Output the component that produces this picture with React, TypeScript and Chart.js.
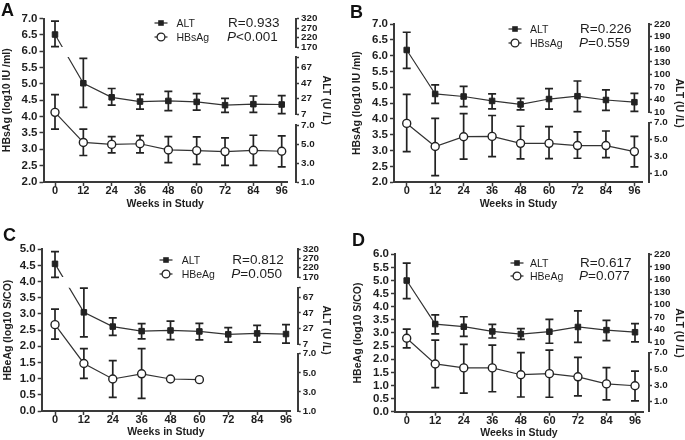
import React, { useEffect, useRef } from 'react';
import { Chart, registerables } from 'chart.js';

Chart.register(...registerables);

// ---------------- data ----------------
const weeks = [0, 12, 24, 36, 48, 60, 72, 84, 96];

// Panel A (values in left-axis units, log10 IU/ml scale position)
const altA = [6.51, 5.02, 4.59, 4.46, 4.48, 4.45, 4.35, 4.38, 4.37];
const altALo = [6.14, 4.28, 4.35, 4.23, 4.18, 4.2, 4.13, 4.13, 4.09];
const altAHi = [6.92, 5.78, 4.86, 4.68, 4.77, 4.7, 4.56, 4.63, 4.64];
const hbsA = [4.13, 3.21, 3.15, 3.17, 2.98, 2.96, 2.93, 2.97, 2.94];
const hbsALo = [3.62, 2.81, 2.89, 2.89, 2.59, 2.54, 2.51, 2.51, 2.46];
const hbsAHi = [4.67, 3.62, 3.39, 3.42, 3.39, 3.38, 3.35, 3.43, 3.41];

// Panel B
const altB = [6.18, 4.79, 4.71, 4.57, 4.46, 4.63, 4.72, 4.6, 4.53];
const altBLo = [5.6, 4.49, 4.39, 4.32, 4.29, 4.31, 4.23, 4.27, 4.24];
const altBHi = [6.74, 5.08, 5.03, 4.79, 4.65, 4.96, 5.2, 4.92, 4.81];
const hbsB = [3.86, 3.13, 3.44, 3.45, 3.23, 3.23, 3.16, 3.16, 2.97];
const hbsBLo = [2.97, 2.21, 2.73, 2.81, 2.74, 2.75, 2.76, 2.78, 2.49];
const hbsBHi = [4.78, 4.02, 4.17, 4.11, 3.77, 3.76, 3.59, 3.62, 3.45];

// Panel C
const altC = [4.55, 3.05, 2.61, 2.47, 2.49, 2.46, 2.37, 2.4, 2.38];
const altCLo = [4.13, 2.29, 2.34, 2.23, 2.21, 2.2, 2.13, 2.13, 2.1];
const altCHi = [4.93, 3.8, 2.88, 2.7, 2.78, 2.71, 2.58, 2.65, 2.67];
const hbeC = [2.67, 1.47, 0.99, 1.15, 0.99, 0.97, null, null, null];
const hbeCLo = [2.22, 1.01, 0.42, 0.39, null, null, null, null, null];
const hbeCHi = [3.15, 1.93, 1.56, 1.93, null, null, null, null, null];

// Panel D
const altD = [5.0, 3.34, 3.24, 3.06, 2.96, 3.05, 3.23, 3.11, 3.03];
const altDLo = [4.31, 2.97, 2.87, 2.81, 2.76, 2.61, 2.64, 2.71, 2.66];
const altDHi = [5.66, 3.69, 3.62, 3.33, 3.17, 3.52, 3.84, 3.48, 3.36];
const hbeD = [2.8, 1.82, 1.67, 1.67, 1.41, 1.45, 1.33, 1.06, 0.99];
const hbeDLo = [2.43, 0.92, 0.71, 0.76, 0.56, 0.55, 0.6, 0.45, 0.41];
const hbeDHi = [3.15, 2.73, 2.57, 2.54, 2.25, 2.35, 2.07, 1.68, 1.55];

// right-axis tick labels
const altHighTicks = [170, 220, 270, 320];
const altMidTicks = [7, 27, 47, 67];
const altWideTicks = [10, 40, 70, 100, 130, 160, 190, 220];
const lowTicks = [1, 3, 5, 7];

// ---------------- styling ----------------
const FONT = "'Liberation Sans', Arial, Helvetica, sans-serif";
const AX = '#3a3a3a';
const TXT = '#1e1e1e';
const LINE = '#333333';

const pts = (vals: (number | null)[]) =>
  weeks.map((w, i) => ({ x: w, y: vals[i] })).filter((d) => d.y != null);

const errorBars = {
  id: 'errorBars',
  beforeDatasetsDraw(chart: any) {
    const ctx = chart.ctx;
    chart.data.datasets.forEach((ds: any, di: number) => {
      if (!ds.errLo) return;
      const meta = chart.getDatasetMeta(di);
      const xs = chart.scales[meta.xAxisID];
      const ys = chart.scales[meta.yAxisID];
      ctx.save();
      ctx.strokeStyle = '#222';
      ctx.lineWidth = 1.7;
      weeks.forEach((w, i) => {
        const lo = ds.errLo[i];
        const hi = ds.errHi[i];
        if (lo == null || hi == null) return;
        const x = xs.getPixelForValue(w);
        const y1 = ys.getPixelForValue(lo);
        const y2 = ys.getPixelForValue(hi);
        const cap = 4;
        ctx.beginPath();
        ctx.moveTo(x, y1);
        ctx.lineTo(x, y2);
        ctx.moveTo(x - cap, y1);
        ctx.lineTo(x + cap, y1);
        ctx.moveTo(x - cap, y2);
        ctx.lineTo(x + cap, y2);
        ctx.stroke();
      });
      ctx.restore();
    });
  },
};

// break the ALT line where the right axis is broken
const breakClip = {
  id: 'breakClip',
  beforeDatasetDraw(chart: any, args: any) {
    const ds = chart.data.datasets[args.index];
    const g = chart.scales.s1;
    if (!ds.breakClip || !g || !g.options.isGap) return;
    const { ctx, chartArea: a } = chart;
    ctx.save();
    ctx.beginPath();
    ctx.rect(a.left - 10, 0, a.width + 20, g.top);
    ctx.rect(a.left - 10, g.bottom, a.width + 20, chart.height - g.bottom);
    ctx.clip();
    ds._clipped = true;
  },
  afterDatasetDraw(chart: any, args: any) {
    const ds = chart.data.datasets[args.index];
    if (ds._clipped) {
      chart.ctx.restore();
      ds._clipped = false;
    }
  },
};

const seg = (min: number, max: number, ticks: number[], labels: string[], w: number) => ({
  min, max, ticks, labels, w,
});
const gap = (w: number) => ({ gap: true, w });
const fmt1 = (a: number[]) => a.map((v) => v.toFixed(1));
const fmt0 = (a: number[]) => a.map((v) => String(v));

const panels: any[] = [
  {
    key: 'A', left: 0, top: 0, w: 343,
    padT: 18.5, padB: 10, padR: 11, yW: 43.5, yTitlePad: 0.4, xH: 28,
    xMin: -4.87, xMax: 98.24, spW: 9, stW: 22, rtW: 14,
    yMin: 2, yMax: 7, yTitle: 'HBsAg (log10 IU /ml)', name: 'HBsAg',
    alt: [altA, altALo, altAHi], ag: [hbsA, hbsALo, hbsAHi],
    segs: [
      seg(170, 320, altHighTicks, fmt0(altHighTicks), 28.5),
      gap(10),
      seg(7, 81, [...altMidTicks, 81], fmt0(altMidTicks), 57),
      gap(11),
      seg(1, 7, lowTicks, fmt1(lowTicks), 57),
    ],
    letter: { x: 1, y: 0 },
    leg: { mx: 161, y1: 23.3, y2: 37.3, tx: 176.5, sx: 228 },
    r: 'R=0.933', pRest: '<0.001',
  },
  {
    key: 'B', left: 343, top: 0, w: 342,
    padT: 24, padB: 9.6, padR: 0, yW: 51, yTitlePad: 7.5, xH: 28.1,
    xMin: -5.36, xMax: 99.5, spW: 6.3, stW: 22, rtW: 14,
    yMin: 2, yMax: 7, yTitle: 'HBsAg (log10 IU /ml)', name: 'HBsAg',
    alt: [altB, altBLo, altBHi], ag: [hbsB, hbsBLo, hbsBHi],
    segs: [
      seg(10, 220, altWideTicks, fmt0(altWideTicks), 88.3),
      gap(10.4),
      seg(-0.07, 7, lowTicks, fmt1(lowTicks), 59.6),
    ],
    letter: { x: 7, y: 2 },
    leg: { mx: 172, y1: 29.3, y2: 43.3, tx: 187, sx: 237 },
    r: 'R=0.226', pRest: '=0.559',
  },
  {
    key: 'C', left: 0, top: 220, w: 343,
    padT: 29.3, padB: 1.5, padR: 11.3, yW: 41.7, yTitlePad: 2, xH: 27.5,
    xMin: -5.53, xMax: 97.66, spW: 7.7, stW: 22, rtW: 12,
    yMin: 0, yMax: 5, yTitle: 'HBeAg (log10 S/CO)', name: 'HBeAg',
    alt: [altC, altCLo, altCHi], ag: [hbeC, hbeCLo, hbeCHi],
    segs: [
      seg(170, 320, altHighTicks, fmt0(altHighTicks), 27.7),
      gap(10.7),
      seg(7, 79.5, [...altMidTicks, 79.5], fmt0(altMidTicks), 56.3),
      gap(9.7),
      seg(1, 7, lowTicks, fmt1(lowTicks), 57.3),
    ],
    letter: { x: 3, y: 5 },
    leg: { mx: 165.7, y1: 40, y2: 54.3, tx: 181.7, sx: 232.3 },
    r: 'R=0.812', pRest: '=0.050',
  },
  {
    key: 'D', left: 343, top: 220, w: 342,
    padT: 34.3, padB: 0.3, padR: 0, yW: 52, yTitlePad: 8.7, xH: 28,
    xMin: -4.92, xMax: 99.36, spW: 6, stW: 22, rtW: 14,
    yMin: 0, yMax: 6, yTitle: 'HBeAg (log10 S/CO)', name: 'HBeAg',
    alt: [altD, altDLo, altDHi], ag: [hbeD, hbeDLo, hbeDHi],
    segs: [
      seg(10, 220, altWideTicks, fmt0(altWideTicks), 88),
      gap(10.4),
      seg(-0.22, 7, lowTicks, fmt1(lowTicks), 59),
    ],
    letter: { x: 9, y: 10 },
    leg: { mx: 174.3, y1: 42.7, y2: 56, tx: 187, sx: 237 },
    r: 'R=0.617', pRest: '=0.077',
  },
];

const tickFont = { family: FONT, size: 11, weight: 'bold' as const };
const yTickFont = { family: FONT, size: 11.5, weight: 'bold' as const };
const rTickFont = { family: FONT, size: 9.8, weight: 'bold' as const };
const titleFont = { family: FONT, size: 10.5, weight: 'bold' as const };

function hidden(extra: any) {
  return {
    type: 'linear',
    position: 'right',
    min: 0,
    max: 1,
    ticks: { display: false },
    grid: { display: false },
    border: { display: false },
    ...extra,
  };
}

function buildConfig(p: any) {
  const scales: any = {
    x: {
      type: 'linear',
      position: 'bottom',
      min: p.xMin,
      max: p.xMax,
      afterBuildTicks: (a: any) => {
        a.ticks = weeks.map((v) => ({ value: v }));
      },
      ticks: {
        autoSkip: false,
        maxRotation: 0,
        padding: -1.5,
        color: TXT,
        font: tickFont,
        callback: (v: any) => String(v),
      },
      grid: { display: true, drawOnChartArea: false, drawTicks: true, tickLength: 4, tickWidth: 1.5, tickColor: AX },
      border: { display: true, color: AX, width: 2 },
      title: { display: true, text: 'Weeks in Study', color: TXT, font: titleFont, padding: { top: 0, bottom: 0 } },
      afterFit: (s: any) => {
        s.height = p.xH;
      },
    },
    y: {
      type: 'linear',
      position: 'left',
      min: p.yMin,
      max: p.yMax,
      ticks: {
        stepSize: 0.5,
        autoSkip: false,
        padding: 2,
        color: TXT,
        font: yTickFont,
        callback: (v: any) => Number(v).toFixed(1),
      },
      grid: { display: true, drawOnChartArea: false, drawTicks: true, tickLength: 4, tickWidth: 1.5, tickColor: AX },
      border: { display: true, color: AX, width: 2 },
      title: { display: true, text: p.yTitle, color: TXT, font: titleFont, padding: { top: p.yTitlePad, bottom: 0 } },
      afterFit: (s: any) => {
        s.width = p.yW;
      },
    },
    sp: hidden({
      afterFit: (s: any) => {
        s.width = p.spW;
      },
    }),
  };
  p.segs.forEach((sg: any, i: number) => {
    if (sg.gap) {
      scales['s' + i] = hidden({
        stack: 'alt',
        stackWeight: sg.w,
        isGap: true,
        afterFit: (s: any) => {
          s.width = p.stW;
        },
      });
    } else {
      scales['s' + i] = {
        type: 'linear',
        position: 'right',
        stack: 'alt',
        stackWeight: sg.w,
        min: sg.min,
        max: sg.max,
        afterBuildTicks: (a: any) => {
          a.ticks = sg.ticks.map((v: number) => ({ value: v }));
        },
        ticks: {
          autoSkip: false,
          padding: 2,
          color: TXT,
          font: rTickFont,
          callback: (_v: any, idx: number) => (idx < sg.labels.length ? sg.labels[idx] : ''),
        },
        grid: { display: true, drawOnChartArea: false, drawTicks: true, tickLength: 3, tickWidth: 1.5, tickColor: AX },
        border: { display: true, color: AX, width: 2 },
        afterFit: (s: any) => {
          s.width = p.stW;
        },
      };
    }
  });
  scales.rt = hidden({
    title: { display: true, text: 'ALT (U /L)', color: TXT, font: titleFont, padding: { top: 0, bottom: 0 } },
    afterFit: (s: any) => {
      s.width = p.rtW;
    },
  });

  const [alt, altLo, altHi] = p.alt;
  const [ag, agLo, agHi] = p.ag;

  return {
    type: 'line',
    data: {
      datasets: [
        {
          label: 'ALT',
          data: pts(alt),
          errLo: altLo,
          errHi: altHi,
          breakClip: true,
          xAxisID: 'x',
          yAxisID: 'y',
          borderColor: LINE,
          borderWidth: 1.2,
          tension: 0,
          fill: false,
          pointStyle: 'rect',
          pointRadius: 3.9,
          pointBackgroundColor: '#222',
          pointBorderColor: '#222',
          pointBorderWidth: 1,
        },
        {
          label: p.name,
          data: pts(ag),
          errLo: agLo,
          errHi: agHi,
          xAxisID: 'x',
          yAxisID: 'y',
          borderColor: LINE,
          borderWidth: 1.2,
          tension: 0,
          fill: false,
          pointStyle: 'circle',
          pointRadius: 4,
          pointBackgroundColor: '#fff',
          pointBorderColor: '#222',
          pointBorderWidth: 1.4,
        },
      ],
    },
    options: {
      animation: false,
      responsive: false,
      devicePixelRatio: 1,
      layout: { padding: { top: p.padT, bottom: p.padB, left: 0, right: p.padR } },
      plugins: { legend: { display: false }, tooltip: { enabled: false } },
      scales,
    },
    plugins: [errorBars, breakClip],
  } as any;
}

function LegendRow({ x, y, kind }: { x: number; y: number; kind: 'sq' | 'ci' }) {
  return (
    <svg
      width={16}
      height={12}
      style={{ position: 'absolute', left: x - 8, top: y - 6 }}
    >
      <line x1={1.5} y1={6} x2={14.5} y2={6} stroke={LINE} strokeWidth={1.3} />
      {kind === 'sq' ? (
        <rect x={5.2} y={3.2} width={5.6} height={5.6} fill="#222" />
      ) : (
        <circle cx={8} cy={6} r={3.9} fill="#fff" stroke="#222" strokeWidth={1.3} />
      )}
    </svg>
  );
}

function Panel({ p }: { p: any }) {
  const ref = useRef<HTMLCanvasElement>(null);
  useEffect(() => {
    const chart = new Chart(ref.current as HTMLCanvasElement, buildConfig(p));
    return () => chart.destroy();
  }, []);
  const lg = p.leg;
  const legText: React.CSSProperties = {
    position: 'absolute',
    fontFamily: FONT,
    fontSize: 10.5,
    lineHeight: '14px',
    color: TXT,
    whiteSpace: 'nowrap',
  };
  const statText: React.CSSProperties = {
    position: 'absolute',
    fontFamily: FONT,
    fontSize: 13.5,
    lineHeight: '16px',
    color: TXT,
    whiteSpace: 'nowrap',
  };
  return (
    <div style={{ position: 'absolute', left: p.left, top: p.top, width: p.w, height: 220 }}>
      <canvas ref={ref} width={p.w} height={220} style={{ width: p.w, height: 220, display: 'block' }} />
      <div
        style={{
          position: 'absolute',
          left: p.letter.x,
          top: p.letter.y,
          fontFamily: FONT,
          fontSize: 18,
          lineHeight: '20px',
          fontWeight: 'bold',
          color: '#111',
        }}
      >
        {p.key}
      </div>
      <LegendRow x={lg.mx} y={lg.y1} kind="sq" />
      <LegendRow x={lg.mx} y={lg.y2} kind="ci" />
      <div style={{ ...legText, left: lg.tx, top: lg.y1 - 7 }}>ALT</div>
      <div style={{ ...legText, left: lg.tx, top: lg.y2 - 7 }}>{p.name}</div>
      <div style={{ ...statText, left: lg.sx, top: lg.y1 - 8 }}>{p.r}</div>
      <div style={{ ...statText, left: lg.sx - 1, top: lg.y2 - 8 }}>
        <i>P</i>
        {p.pRest}
      </div>
    </div>
  );
}

export default function App() {
  return (
    <div
      style={{
        position: 'fixed',
        left: 0,
        top: 0,
        width: 685,
        height: 440,
        background: '#fff',
        overflow: 'hidden',
      }}
    >
      {panels.map((p) => (
        <Panel key={p.key} p={p} />
      ))}
    </div>
  );
}
